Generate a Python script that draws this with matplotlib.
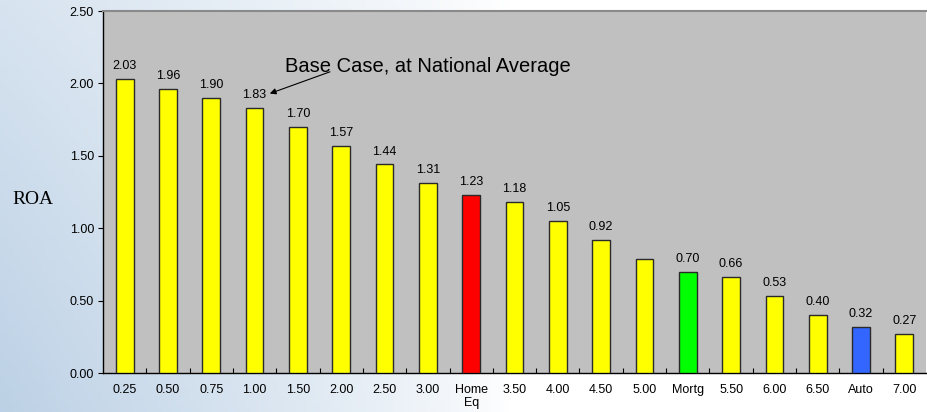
import matplotlib.pyplot as plt
import numpy as np

# chart data
categories = ['0.25', '0.50', '0.75', '1.00', '1.50', '2.00', '2.50', '3.00', 'Home\nEq',
              '3.50', '4.00', '4.50', '5.00', 'Mortg', '5.50', '6.00', '6.50', 'Auto', '7.00']
roa = [2.03, 1.96, 1.90, 1.83, 1.70, 1.57, 1.44, 1.31, 1.23,
       1.18, 1.05, 0.92, 0.79, 0.70, 0.66, 0.53, 0.40, 0.32, 0.27]
show_label = [True] * 12 + [False] + [True] * 6
colors = ['#ffff00'] * 8 + ['#ff0000'] + ['#ffff00'] * 4 + ['#00ff00'] + ['#ffff00'] * 3 + ['#3366ff'] + ['#ffff00']

plt.rcParams['font.family'] = ['Liberation Sans', 'DejaVu Sans']

fig = plt.figure(figsize=(9.27, 4.12), dpi=100)

# sky-ish backdrop
bg = fig.add_axes([0, 0, 1, 1], zorder=-1)
gx = np.linspace(0, 1, 200)
gy = np.linspace(0, 1, 100)
X, Y = np.meshgrid(gx, gy)
fade = np.clip(1 - X / 0.55, 0, 1) ** 0.8 * (0.6 + 0.4 * (1 - Y))
r = 1 - fade * (1 - 0.74)
g = 1 - fade * (1 - 0.82)
b = 1 - fade * (1 - 0.90)
bg.imshow(np.dstack([r, g, b]), aspect='auto', extent=[0, 1, 0, 1], origin='lower')
bg.axis('off')

ax = fig.add_axes([103 / 927, 1 - 373 / 412, 823 / 927, 362 / 412])
ax.set_facecolor('#c0c0c0')

x = np.arange(len(categories))
bars = ax.bar(x, roa, 0.41, color=colors, edgecolor='#2a2a2a', linewidth=1.0, zorder=3)

for rect, v, show in zip(bars, roa, show_label):
    if show:
        ax.annotate('{:.2f}'.format(v), xy=(rect.get_x() + rect.get_width() / 2, v),
                    xytext=(0, 5), textcoords='offset points',
                    ha='center', va='bottom', fontsize=9)

ax.set_xlim(-0.5, len(categories) - 0.5)
ax.set_ylim(0, 2.5)
yt = np.arange(0, 2.51, 0.5)
ax.set_yticks(yt)
ax.set_yticklabels(['{:.2f}'.format(t) for t in yt], fontsize=9)

ax.set_xticks(x)
ax.set_xticklabels(categories, fontsize=9, linespacing=1.1, va='top')
ax.tick_params(axis='x', length=0, pad=8)
ax.set_xticks(np.arange(0.5, len(categories) - 0.5, 1), minor=True)
ax.tick_params(axis='x', which='minor', direction='in', length=3.5, width=0.8)
ax.tick_params(axis='y', direction='out', length=3.5, width=0.8, pad=3)

for s in ['left', 'bottom']:
    ax.spines[s].set_color('black')
    ax.spines[s].set_linewidth(1.0)
ax.spines['top'].set_color('#8a8a8a')
ax.spines['top'].set_linewidth(1.5)
ax.spines['right'].set_visible(False)

fig.text(33 / 927, 1 - 199 / 412, 'ROA', family='Liberation Serif', fontsize=14,
         ha='center', va='center')

# annotation for the base case
ax.text(3.70, 2.08, 'Base Case, at National Average', fontsize=14.5, ha='left', va='baseline')
ax.annotate('', xy=(3.35, 1.93), xytext=(4.74, 2.08),
            arrowprops=dict(arrowstyle='-|>', color='black', lw=0.8, mutation_scale=9,
                            shrinkA=0, shrinkB=0))

fig.savefig('out.png', dpi=100)
